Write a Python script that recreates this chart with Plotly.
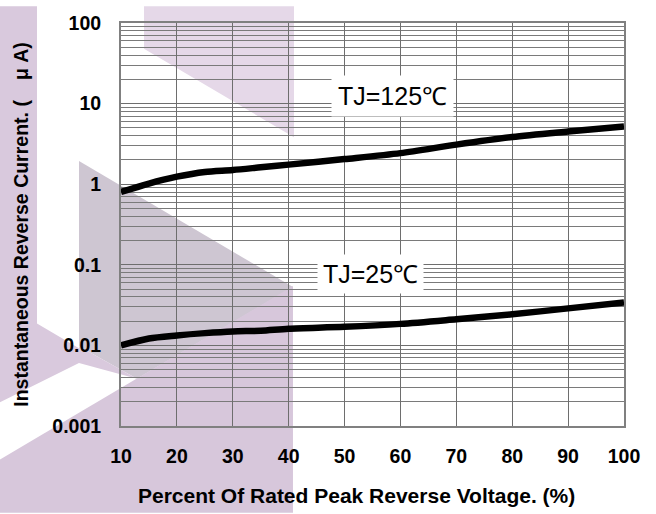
import plotly.graph_objects as go

# ---- data ----
voltage_pct = [10, 15, 20, 25, 30, 35, 40, 50, 60, 70, 80, 90, 100]
ir_125c = [0.80, 1.02, 1.24, 1.42, 1.50, 1.62, 1.75, 2.05, 2.43, 3.10, 3.85, 4.50, 5.20]
ir_25c = [0.0100, 0.0122, 0.0133, 0.0142, 0.0149, 0.0152, 0.0161, 0.0170, 0.0185, 0.0211, 0.0243, 0.0288, 0.0340]

x_ticks = [10, 20, 30, 40, 50, 60, 70, 80, 90, 100]
y_tickvals = [0.001, 0.01, 0.1, 1, 10, 100]
y_ticktext = ["0.001", "0.01", "0.1", "1", "10", "100"]

label_125 = "TJ=125℃"
label_25 = "TJ=25℃"
x_title = "Percent Of Rated Peak Reverse Voltage. (%)"
y_title = "Instantaneous Reverse Current. (　μ A)"

# ---- layout geometry ----
W, H = 656, 514
ML, MR, MT, MB = 121, 32, 17, 88
PW, PH = W - ML - MR, H - MT - MB


def px2paper(px, py):
    return (px - ML) / PW, (H - MB - py) / PH


def poly(points, color):
    pts = [px2paper(x, y) for x, y in points]
    path = "M " + " L ".join(f"{a:.4f},{b:.4f}" for a, b in pts) + " Z"
    return dict(type="path", xref="paper", yref="paper", path=path,
                fillcolor=color, line=dict(width=0), layer="below")


watermark = [
    poly([(144, 0), (294, 0), (294, 133), (144, 43)], "#e5d8e8"),
    poly([(0, 0), (37, 0), (37, 322), (79, 347), (79, 362), (0, 402)], "#d9c9dd"),
    poly([(79, 157), (293, 285), (137, 378), (79, 345)], "#cec6d2"),
    poly([(79, 345), (137, 378), (79, 362)], "#d9c9dd"),
    poly([(0, 460), (293, 284), (293, 514), (0, 514)], "#d7c7db"),
]

fig = go.Figure()
for ys in (ir_125c, ir_25c):
    fig.add_trace(go.Scatter(x=voltage_pct, y=ys, mode="lines",
                             line=dict(color="black", width=6.5, shape="spline", smoothing=0.8),
                             showlegend=False, hoverinfo="skip"))

font_main = "Liberation Sans, Arial, sans-serif"
xt_x, xt_y = px2paper(356, 497)

fig.update_layout(
    width=W, height=H,
    margin=dict(l=ML, r=MR, t=MT, b=MB),
    paper_bgcolor="white",
    plot_bgcolor="rgba(0,0,0,0)",
    shapes=watermark,
    font=dict(family=font_main, color="black"),
    xaxis=dict(
        range=[10, 100], tickvals=x_ticks, ticks="",
        showgrid=True, gridcolor="#6e6e6e", gridwidth=1,
        showline=True, linecolor="#808080", linewidth=2, mirror=True,
        tickfont=dict(size=19.5, family=font_main, weight="bold"),
        ticklabelstandoff=12,
        zeroline=False,
    ),
    yaxis=dict(
        type="log", range=[-3, 2],
        tickvals=y_tickvals, ticktext=y_ticktext, ticks="",
        showgrid=True, gridcolor="#6e6e6e", gridwidth=1,
        minor=dict(dtick="D1", showgrid=True, gridcolor="#7a7a7a", gridwidth=1, ticks=""),
        showline=True, linecolor="#808080", linewidth=2, mirror=True,
        tickfont=dict(size=19.5, family=font_main, weight="bold"),
        ticklabelstandoff=14,
        title=dict(text="<b>" + y_title + "</b>",
                   font=dict(size=19.5, family=font_main), standoff=18),
        zeroline=False,
    ),
    annotations=[
        dict(x=58.6, y=1.10, xref="x", yref="y", text=label_125, showarrow=False,
             font=dict(size=25, family=font_main, color="black"),
             bgcolor="white", borderpad=6),
        dict(x=54.6, y=-1.12, xref="x", yref="y", text=label_25, showarrow=False,
             font=dict(size=25, family=font_main, color="black"),
             bgcolor="white", borderpad=5),
        dict(x=xt_x, y=xt_y, xref="paper", yref="paper", text="<b>" + x_title + "</b>",
             showarrow=False, xanchor="center", yanchor="middle",
             font=dict(size=21, family=font_main, color="black")),
    ],
)

fig.write_html("out.html", config={"displayModeBar": False},
               post_script="document.body.style.margin='0';")
